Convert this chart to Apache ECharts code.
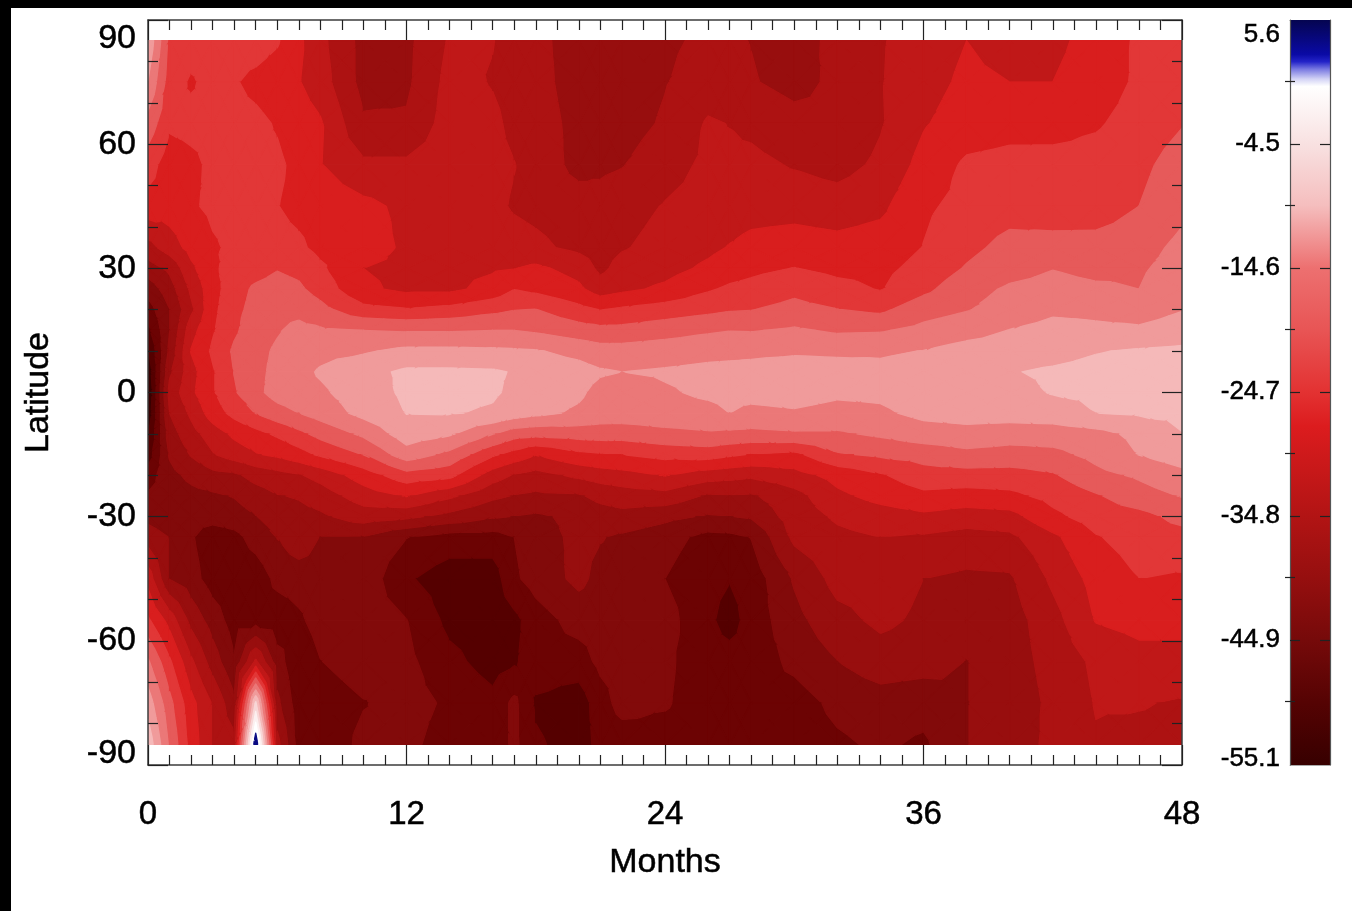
<!DOCTYPE html>
<html><head><meta charset="utf-8">
<style>html,body{margin:0;padding:0;background:#fff}#c{width:1352px;height:911px;filter:blur(0.5px)}</style>
<script src="https://cdn.jsdelivr.net/npm/echarts@6/dist/echarts.min.js"></script>
</head><body><div id="c"></div>
<script>
const baseMonths=[0,1,2,3,4,5,6,7,8,10,12,14,16,18,20,22,24,26,28,30,32,34,36,38,40,42,44,46,48];
const latitudes=[85,75,65,55,45,35,30,25,20,15,10,5,0,-5,-10,-15,-20,-25,-30,-35,-45,-55,-65,-75,-85];
const lat85=[-13,-24,-25,-25,-25,-25,-26.2,-29.5,-32.7,-38.5,-38.2,-33.3,-33.6,-36.3,-39,-39.2,-38,-36.5,-37.4,-39,-36.2,-34,-32,-30.2,-31.5,-31,-29,-26,-25];
const lat75=[-16,-25,-27,-25.5,-26.3,-27.5,-28.5,-30,-32,-38.5,-38,-32.5,-33.9,-36,-39,-39.5,-37.5,-35.5,-37,-38.5,-36.5,-33.9,-31.5,-29.5,-30.2,-30.2,-28.5,-26,-25];
const lat65=[-21,-26,-25.5,-25.5,-25.5,-25.8,-26.9,-28.5,-29.8,-36.8,-36.8,-32,-33,-35.5,-38.5,-39,-36.8,-33.3,-34.5,-36,-36.5,-34,-30.5,-28.5,-27.8,-28,-27,-25.2,-23.3];
const lat55=[-25,-28.5,-27.5,-25.8,-25.5,-25.5,-26,-27.5,-30,-33,-33,-31.5,-32.8,-35,-38.5,-37.5,-35,-33,-32.8,-34,-35,-33,-29,-26,-25.5,-25.3,-25.2,-24,-21.5];
const lat45=[-28,-28.5,-27,-26,-25.5,-25.2,-26.5,-27.5,-28,-29.3,-31,-32,-33,-34.5,-35.5,-35,-33.5,-32.5,-31.5,-31.5,-32,-31,-27.2,-25.5,-24.5,-25,-25,-23.1,-20.5];
const lat35=[-35,-32,-29,-27,-26,-25.5,-25.5,-26,-27.5,-28.5,-30.8,-31.5,-32,-33,-34.5,-34,-32.5,-31,-29.2,-28.5,-29,-28.5,-26.5,-24,-22,-21.8,-21.7,-21,-18.5];
const lat30=[-39,-36.5,-31,-27.3,-25,-24.5,-23.3,-24,-26,-30.2,-31,-31,-30.6,-29.5,-31.5,-32.5,-31.5,-29.5,-27.5,-26.5,-27.5,-27.5,-25.5,-22.8,-20.8,-19.6,-20.3,-20,-18];
const lat25=[-43,-39,-33,-28,-24.5,-22.5,-21.8,-22.5,-24.5,-29.5,-31,-31,-29,-27.5,-29.5,-31,-29.5,-27,-25.5,-24,-25.5,-26.8,-24,-20.8,-19,-18.5,-19,-19.5,-17];
const lat20=[-46,-41,-34.5,-27.5,-24,-22,-20.5,-20.5,-22,-25.5,-26.3,-25.5,-24,-23,-25.5,-26,-25,-24,-23.2,-22,-23,-23.8,-21,-19.7,-18,-16.5,-16.6,-17,-16];
const lat15=[-49,-41,-31.5,-27,-23.7,-21,-19.8,-18.5,-19,-19.5,-19.8,-19.8,-19.5,-20,-21.5,-22,-21,-20,-19.7,-19,-20,-19.8,-18.5,-17.3,-15.8,-14.8,-15.3,-15.5,-14.8];
const lat10=[-52,-40,-30,-26,-22.5,-20.5,-19,-18,-17,-16.3,-15,-15,-15.2,-15.6,-17,-18,-17.5,-17,-16.5,-16.3,-16.5,-16.4,-15.8,-14.5,-14,-13.7,-12.6,-12,-11.5];
const lat5=[-54,-38,-31.5,-27,-23,-20.5,-18.5,-17,-15.5,-13.5,-11.8,-11.8,-12,-13.5,-14.5,-15.9,-15.5,-15,-15,-14.5,-14.5,-15,-14.2,-13.5,-12.6,-11.9,-11.3,-11,-10.5];
const lat0=[-55,-36,-31,-27,-23.5,-20.5,-18,-17,-16.5,-14,-11.8,-11.6,-12,-14,-15.3,-17.5,-16.3,-15.3,-14.9,-14.5,-15.3,-15.2,-14,-14,-13.5,-12.2,-11.8,-11.2,-10.8];
const latS5=[-54,-37.3,-33,-28.5,-25.5,-23,-21,-19.5,-18,-14.8,-12.3,-12.2,-12.8,-15,-16.5,-17.5,-17.3,-16.9,-16.7,-16.3,-17,-16.5,-15,-14.6,-14.3,-14,-12.4,-12,-11.6];
const latS10=[-52,-39,-35,-32,-29.5,-27.8,-26,-24,-22,-18.8,-14,-15.4,-19.3,-22,-21.5,-21.5,-20.5,-20,-20.5,-20,-20,-18.9,-17.5,-17,-17.8,-17.7,-17,-15,-12.5];
const latS15=[-50,-40.5,-37,-34,-32,-30.5,-29.5,-28,-26,-23,-17.5,-20.5,-26,-30,-27.5,-26.6,-25.5,-25,-26.8,-27.5,-23.5,-22.5,-21.8,-20.5,-21,-20.5,-18.5,-15.8,-14];
const latS20=[-46,-42,-40,-38.5,-38,-36,-35,-34,-32.5,-28.5,-24.5,-25.5,-32,-35,-33,-31.5,-30,-32,-33,-31.5,-29,-27,-24.5,-24.5,-24.5,-23.5,-20.5,-19,-17];
const latS25=[-44,-43,-42,-41.5,-40.7,-39,-37.5,-37,-35.5,-32,-30,-33,-36.5,-38,-37.7,-35.5,-35,-37.8,-37.8,-35,-31,-29,-27.5,-28,-27.5,-25.5,-23.5,-21,-19.3];
const latS30=[-42,-43.5,-43.5,-43,-42.5,-41,-39,-38.5,-38,-35.5,-36.5,-38.5,-40.5,-41.5,-40,-38.5,-40,-41.3,-40.5,-35.5,-33.2,-32,-31,-32,-31.5,-27.5,-25,-24.3,-22];
const latS35=[-39,-41,-44,-46.5,-45.5,-43,-40.8,-38.5,-41,-41.2,-44.3,-46,-46,-42.5,-40,-41.5,-43,-45.5,-44.3,-36.5,-34.5,-33.7,-34.2,-35,-34.5,-31,-26.9,-25,-24.5];
const latS45=[-31.5,-41,-43,-46,-47,-46.5,-43.5,-43,-42.5,-42,-47.5,-50,-50,-43,-40,-42,-44.4,-47,-46.5,-40.5,-36,-35.5,-37.3,-38,-37.8,-33,-29,-26.6,-27];
const latS55=[-26,-31.5,-38.5,-42.5,-46,-46,-46.5,-45,-43,-42.5,-44.3,-49,-50,-46,-43,-42.5,-43,-47.2,-46.5,-42,-38.5,-36.5,-38,-39.5,-39,-35,-30,-29,-29];
const latS65=[-19,-26,-33,-39,-44,-33,-43,-47,-44.5,-42.5,-43.5,-47,-49.5,-46,-46,-43,-43.7,-46.5,-46.5,-43.5,-40.9,-39,-39.5,-41,-39,-36,-33,-31.5,-31.5];
const latS75=[-14,-22,-29,-34,-40,-8,-40,-46.5,-46.5,-44.6,-43,-45,-47,-48.5,-50,-43,-44,-46.5,-46,-46,-43.5,-42.5,-43,-41,-39.5,-36.5,-33.5,-33.5,-34];
const latS85=[-10,-20,-28,-34,-36,5.6,-36,-46,-47,-43.5,-43.5,-46,-47,-47.5,-49.5,-46.5,-46,-46.5,-46,-46.5,-45,-43.8,-45,-41,-39,-36.5,-34,-34.5,-34.5];
const month17=[-34.8,-34.8,-34.5,-33.6,-34,-32.5,-30.3,-26.7,-23.2,-19.5,-15.4,-12.6,-13,-14,-21.5,-28,-34,-37.5,-41,-44.4,-45,-49,-48.5,-43.5,-43.5];
const month21=[-39.5,-39.5,-39,-38,-36,-35,-34.5,-32,-26.7,-22,-18,-15.5,-17,-17.6,-21.3,-27,-32,-36.3,-39,-40.7,-42,-43,-43.5,-46,-47];
const month27=[-36.8,-36,-33.8,-33,-32,-30,-28.3,-26,-23.4,-19.6,-16.7,-15,-15,-15.9,-20.3,-26,-32.5,-37.5,-41,-45.3,-47.8,-49.5,-46.5,-46.2,-46];
const rows=[lat85,lat75,lat65,lat55,lat45,lat35,lat30,lat25,lat20,lat15,lat10,lat5,lat0,latS5,latS10,latS15,latS20,latS25,latS30,latS35,latS45,latS55,latS65,latS75,latS85];
const extraMonths=[[17,month17],[21,month21],[27,month27]];

const months=baseMonths.slice();
const grid=rows.map(r=>r.slice());
extraMonths.forEach(([m,col])=>{
  const at=months.findIndex(v=>v>m);
  months.splice(at,0,m);
  grid.forEach((r,j)=>r.splice(at,0,col[j]));
});

const levels=[-55.1,-51.5,-48,-44.4,-40.9,-37.3,-33.7,-30.2,-26.6,-23.1,-19.5,-15.9,-12.4,-8.8,-5.2,-1.7,1.9,5.7];
const bandColors=['#380000','#550000','#6c0303','#820a0a','#980e0e','#ad1212','#c01818','#d91e1e','#e23737','#e65a5a','#eb7878','#f09b9b','#f5b9b9','#f8d7d7','#fcf0f0','#ffffff','#0a0a82'];
const colorbarLabels=[-55.1,-44.9,-34.8,-24.7,-14.6,-4.5,5.6];
const colorbarMinorTicks=[-49.9,-39.8,-29.7,-19.6,-9.5,0.6];
const colorbarStopValues=[5.6,2.8,2.2,1.6,0.8,0.2,-4.5,-9.5,-14.6,-19.6,-24.7,-27.5,-34.8,-39.8,-44.9,-50,-55.1];
const colorbarStopColors=['#050550','#0a0aa5','#2323c8','#7878e1','#d2d2f5','#ffffff','#f8e1e1','#f5bebe','#ed7070','#e85555','#e33232','#dc1c1e','#b21414','#960f0f','#760a0a','#550303','#370000'];

function clipTri(tri,limit,keepAbove){
  const out=[];
  for(let k=0;k<tri.length;k++){
    const a=tri[k],b=tri[(k+1)%tri.length];
    const ina=keepAbove?a[2]>=limit:a[2]<=limit, inb=keepAbove?b[2]>=limit:b[2]<=limit;
    if(ina)out.push(a);
    if(ina!==inb){const t=(limit-a[2])/(b[2]-a[2]);out.push([a[0]+t*(b[0]-a[0]),a[1]+t*(b[1]-a[1]),limit]);}
  }
  return out;
}
const cells=[];
for(let j=0;j<latitudes.length-1;j++)for(let i=0;i<months.length-1;i++)cells.push([months[i],latitudes[j],i,j]);
function renderCell(params,api){
  const i=api.value(2),j=api.value(3);
  const p=[[months[i],latitudes[j],grid[j][i]],[months[i+1],latitudes[j],grid[j][i+1]],[months[i+1],latitudes[j+1],grid[j+1][i+1]],[months[i],latitudes[j+1],grid[j+1][i]]];
  const c=[(p[0][0]+p[1][0])/2,(p[0][1]+p[3][1])/2,(p[0][2]+p[1][2]+p[2][2]+p[3][2])/4];
  const children=[];
  for(let t=0;t<4;t++){
    const tri=[p[t],p[(t+1)%4],c];
    const lo=Math.min(tri[0][2],tri[1][2],tri[2][2]),hi=Math.max(tri[0][2],tri[1][2],tri[2][2]);
    for(let b=0;b<bandColors.length;b++){
      if(levels[b+1]<lo||levels[b]>hi)continue;
      let poly=clipTri(tri,levels[b],true);
      if(poly.length)poly=clipTri(poly,levels[b+1],false);
      if(poly.length<3)continue;
      children.push({type:'polygon',shape:{points:poly.map(q=>api.coord([q[0],q[1]]))},style:{fill:bandColors[b],stroke:bandColors[b],lineWidth:1.3,lineJoin:'round'}});
    }
  }
  return {type:'group',children};
}
function renderBar(params,api){
  const a=api.coord([0,colorbarStopValues[0]]),b=api.coord([1,colorbarStopValues[colorbarStopValues.length-1]]);
  const span=colorbarStopValues[0]-colorbarStopValues[colorbarStopValues.length-1];
  const stops=colorbarStopValues.map((v,k)=>({offset:(colorbarStopValues[0]-v)/span,color:colorbarStopColors[k]}));
  return {type:'rect',shape:{x:a[0],y:a[1],width:b[0]-a[0],height:b[1]-a[1]},style:{fill:new echarts.graphic.LinearGradient(0,0,0,1,stops)}};
}
const font='"Liberation Sans",Arial,sans-serif';
const heavy={textBorderColor:'#000',textBorderWidth:0.5};
const frame={show:true,onZero:false,lineStyle:{color:'#3c3c3c',width:1.5}};
const tickLine={color:'#222',width:1.2};
const majorTick={show:true,inside:true,length:20,lineStyle:tickLine};
const noLabel={show:false};
const chart=echarts.init(document.getElementById('c'),null,{renderer:'canvas'});
chart.setOption({
  animation:false,backgroundColor:'#fff',
  graphic:[
    {type:'rect',z:100,silent:true,shape:{x:0,y:0,width:1352,height:8},style:{fill:'#000'}},
    {type:'rect',z:100,silent:true,shape:{x:0,y:0,width:11,height:911},style:{fill:'#000'}}
  ],
  grid:[
    {left:148,top:20,width:1034,height:745},
    {left:1290,top:20,width:40,height:745}
  ],
  xAxis:[
    {gridIndex:0,type:'value',min:0,max:48,interval:12,position:'bottom',axisLine:frame,axisTick:majorTick,
     minorTick:{show:true,splitNumber:12,length:10,lineStyle:tickLine},splitLine:{show:false},minorSplitLine:{show:false},
     axisLabel:{show:true,fontFamily:font,fontSize:33,color:'#000',margin:33,inside:false,...heavy},
     name:'Months',nameLocation:'middle',nameGap:81,nameTextStyle:{fontFamily:font,fontSize:34,color:'#000',...heavy},z:10},
    {gridIndex:0,type:'value',min:0,max:48,interval:12,position:'top',axisLine:frame,axisTick:majorTick,
     minorTick:{show:true,splitNumber:12,length:10,lineStyle:tickLine},splitLine:{show:false},axisLabel:noLabel,z:10},
    {gridIndex:1,type:'value',min:0,max:1,position:'bottom',axisLine:{show:true,onZero:false,lineStyle:{color:'#aaa',width:1}},axisTick:noLabel,splitLine:{show:false},axisLabel:noLabel},
    {gridIndex:1,type:'value',min:0,max:1,position:'top',axisLine:{show:true,onZero:false,lineStyle:{color:'#888',width:1}},axisTick:noLabel,splitLine:{show:false},axisLabel:noLabel}
  ],
  yAxis:[
    {gridIndex:0,type:'value',min:-90,max:90,interval:30,position:'left',axisLine:frame,axisTick:majorTick,
     minorTick:{show:true,splitNumber:3,length:10,lineStyle:tickLine},splitLine:{show:false},
     axisLabel:{show:true,fontFamily:font,fontSize:34,color:'#000',margin:12,lineHeight:22,padding:[8,0,0,0],verticalAlignMaxLabel:'top',verticalAlignMinLabel:'bottom',...heavy},
     name:'Latitude',nameLocation:'middle',nameRotate:90,nameGap:92,nameTextStyle:{fontFamily:font,fontSize:34,color:'#000',...heavy},z:10},
    {gridIndex:0,type:'value',min:-90,max:90,interval:30,position:'right',axisLine:frame,axisTick:majorTick,
     minorTick:{show:true,splitNumber:3,length:10,lineStyle:tickLine},splitLine:{show:false},axisLabel:noLabel,z:10},
    {gridIndex:1,type:'value',min:-55.1,max:5.6,position:'left',axisLine:{show:true,onZero:false,lineStyle:{color:'#555',width:1.2}},
     axisTick:{show:true,inside:true,length:10,lineStyle:tickLine,customValues:colorbarLabels.slice(1,-1)},splitLine:{show:false},
     axisLabel:{show:true,fontFamily:font,fontSize:26,color:'#000',margin:10,lineHeight:12,padding:[9,0,0,0],customValues:colorbarLabels,formatter:v=>v.toFixed(1),verticalAlignMaxLabel:'top',verticalAlignMinLabel:'bottom',...heavy},z:10},
    {gridIndex:1,type:'value',min:-55.1,max:5.6,position:'right',axisLine:{show:true,onZero:false,lineStyle:{color:'#555',width:1.2}},
     axisTick:{show:true,inside:true,length:10,lineStyle:tickLine,customValues:colorbarLabels.slice(1,-1)},splitLine:{show:false},axisLabel:noLabel,z:10},
    {gridIndex:1,type:'value',min:-55.1,max:5.6,position:'left',axisLine:{show:false},
     axisTick:{show:true,inside:true,length:5,lineStyle:tickLine,customValues:colorbarMinorTicks},splitLine:{show:false},axisLabel:noLabel,z:10},
    {gridIndex:1,type:'value',min:-55.1,max:5.6,position:'right',axisLine:{show:false},
     axisTick:{show:true,inside:true,length:5,lineStyle:tickLine,customValues:colorbarMinorTicks},splitLine:{show:false},axisLabel:noLabel,z:10}
  ],
  series:[
    {type:'custom',name:'Latitude-month field',xAxisIndex:0,yAxisIndex:0,coordinateSystem:'cartesian2d',clip:true,silent:true,progressive:0,
     renderItem:renderCell,encode:{x:0,y:1},data:cells,z:2},
    {type:'custom',name:'Colour bar',xAxisIndex:2,yAxisIndex:2,coordinateSystem:'cartesian2d',clip:true,silent:true,
     renderItem:renderBar,encode:{x:0,y:1},data:[[0,0]],z:2}
  ]
});
</script></body></html>
